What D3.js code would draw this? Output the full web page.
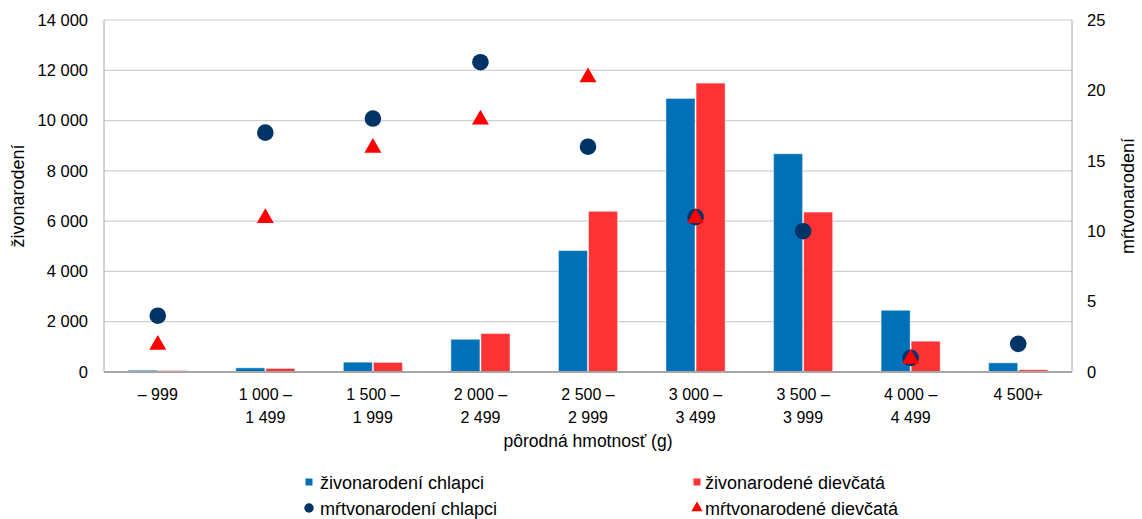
<!DOCTYPE html>
<html>
<head>
<meta charset="utf-8">
<script src="https://cdn.jsdelivr.net/npm/d3@7"></script>
<style>
body{margin:0;background:#fff;}
text{font-family:"Liberation Sans",Arial,sans-serif;fill:#000;}
</style>
</head>
<body>
<div id="svgContainer"></div>
<script>
// data
var categories = [["– 999"],["1 000 –","1 499"],["1 500 –","1 999"],["2 000 –","2 499"],["2 500 –","2 999"],["3 000 –","3 499"],["3 500 –","3 999"],["4 000 –","4 499"],["4 500+"]];
var liveBoys   = [70, 165, 390, 1300, 4830, 10880, 8680, 2455, 365];
var liveGirls  = [55, 140, 380, 1530, 6390, 11490, 6360, 1225, 90];
var stillBoys  = [4, 17, 18, 22, 16, 11, 10, 1, 2];
var stillGirls = [2, 11, 16, 18, 21, 11, null, 1, null];
var leftTicks  = [0, 2000, 4000, 6000, 8000, 10000, 12000, 14000];
var rightTicks = [0, 5, 10, 15, 20, 25];
var legendNames = ["živonarodení chlapci","živonarodené dievčatá","mŕtvonarodení chlapci","mŕtvonarodené dievčatá"];

var svgWidth = 1142, svgHeight = 519;
var margin = {top:20,left:104,right:70,bottom:147};
var svg = d3.select("#svgContainer").append("svg")
    .attr("width",svgWidth).attr("height",svgHeight);

var colBlue = "#0070b8", colRed = "#ff3333", colNavy = "#003366", colTri = "#ff0000";
var sk = d3.formatLocale({decimal:",",thousands:" ",grouping:[3],currency:["",""]});
var fmt = sk.format(",d");

var keys = categories.map(function(d,i){return i;});
var x = d3.scaleBand().domain(keys).range([margin.left, svgWidth-margin.right]);
var yL = d3.scaleLinear().domain([0,14000]).range([svgHeight-margin.bottom, margin.top]);
var yR = d3.scaleLinear().domain([0,25]).range([svgHeight-margin.bottom, margin.top]);
var groupW = x.bandwidth()/1.82;
var x1 = d3.scaleBand().domain([0,1]).range([0,groupW]).paddingInner(0.035);

// gridlines
svg.append("g").selectAll("line").data(leftTicks.slice(1)).enter().append("line")
    .attr("x1",margin.left).attr("x2",svgWidth-margin.right)
    .attr("y1",function(d){return yL(d);}).attr("y2",function(d){return yL(d);})
    .attr("stroke","#d0d0d0").attr("stroke-width",1.2);

// side lines
svg.append("line").attr("x1",margin.left).attr("x2",margin.left)
    .attr("y1",margin.top).attr("y2",yL(0)).attr("stroke","#a6a6a6");
svg.append("line").attr("x1",svgWidth-margin.right).attr("x2",svgWidth-margin.right)
    .attr("y1",margin.top).attr("y2",yL(0)).attr("stroke","#a6a6a6");

// bars
var series = [liveBoys, liveGirls];
var barCols = [colBlue, colRed];
series.forEach(function(s,k){
    svg.append("g").selectAll("rect").data(s).enter().append("rect")
        .attr("x",function(d,i){return x(i)+(x.bandwidth()-groupW)/2+x1(k);})
        .attr("y",function(d){return yL(d);})
        .attr("width",x1.bandwidth())
        .attr("height",function(d){return yL(0)-yL(d);})
        .attr("fill",barCols[k])
        .attr("stroke","rgba(255,255,255,0.45)").attr("stroke-width",1);
});

// bottom axis line
svg.append("line").attr("x1",margin.left).attr("x2",svgWidth-margin.right)
    .attr("y1",yL(0)).attr("y2",yL(0)).attr("stroke","#a6a6a6").attr("stroke-width",2);

// left axis
var axL = svg.append("g").attr("transform","translate("+margin.left+",0)")
    .call(d3.axisLeft(yL).tickValues(leftTicks).tickFormat(fmt).tickSize(0).tickPadding(16));
axL.select(".domain").remove();
axL.selectAll("text").attr("font-size",16.5).style("font-family","Liberation Sans, Arial");

// right axis
var axR = svg.append("g").attr("transform","translate("+(svgWidth-margin.right)+",0)")
    .call(d3.axisRight(yR).tickValues(rightTicks).tickSize(0).tickPadding(15));
axR.select(".domain").remove();
axR.selectAll("text").attr("font-size",16.5).style("font-family","Liberation Sans, Arial");

// category labels
var xl = svg.append("g").selectAll("text").data(categories).enter().append("text")
    .attr("text-anchor","middle").attr("font-size",16)
    .style("font-family","Liberation Sans Narrow, Arial Narrow, Liberation Sans");
xl.each(function(d,i){
    var t = d3.select(this);
    d.forEach(function(line,j){
        t.append("tspan").attr("x",x(i)+x.bandwidth()/2)
            .attr("y",(d.length==1 ? 400 : 400+j*23)).text(line);
    });
});

// stillborn markers
svg.append("g").selectAll("circle").data(stillBoys).enter()
    .filter(function(d){return d!==null;})
    .append("circle")
    .attr("cx",function(d,i){return x(i)+x.bandwidth()/2;})
    .attr("cy",function(d){return yR(d);})
    .attr("r",8.3).attr("fill",colNavy);
var tri = d3.symbol().type(d3.symbolTriangle).size(125);
svg.append("g").selectAll("path").data(stillGirls.map(function(d,i){return {v:d,i:i};}).filter(function(d){return d.v!==null;}))
    .enter().append("path")
    .attr("d",tri)
    .attr("transform",function(d){return "translate("+(x(d.i)+x.bandwidth()/2)+","+(yR(d.v)+1)+")";})
    .attr("fill",colTri);

// axis titles
svg.append("text").attr("transform","translate(24,"+(yL(7000))+") rotate(-90)")
    .attr("text-anchor","middle").attr("font-size",18).text("živonarodení");
svg.append("text").attr("transform","translate(1134,"+(yL(7000))+") rotate(-90)")
    .attr("text-anchor","middle").attr("font-size",18).text("mŕtvonarodení");
svg.append("text").attr("x",(margin.left+svgWidth-margin.right)/2).attr("y",447)
    .attr("text-anchor","middle").attr("font-size",17.5).text("pôrodná hmotnosť (g)");

// legend
var legPos = [[309,482],[697,482],[309,508],[697,508]];
var lg = svg.append("g").selectAll("g").data(legendNames).enter().append("g")
    .attr("transform",function(d,i){return "translate("+legPos[i]+")";});
lg.each(function(d,i){
    var g = d3.select(this);
    if(i<2){
        g.append("rect").attr("x",-3.5).attr("y",-3.5).attr("width",7).attr("height",7).attr("fill",barCols[i]);
    } else if(i==2){
        g.append("circle").attr("r",4.7).attr("fill",colNavy);
    } else {
        g.append("path").attr("d",d3.symbol().type(d3.symbolTriangle).size(55)).attr("fill",colTri);
    }
    g.append("text").attr("x",(i%2==0 ? 11 : 8)).attr("y",6.5).attr("font-size",18).text(d);
});
</script>
</body>
</html>
